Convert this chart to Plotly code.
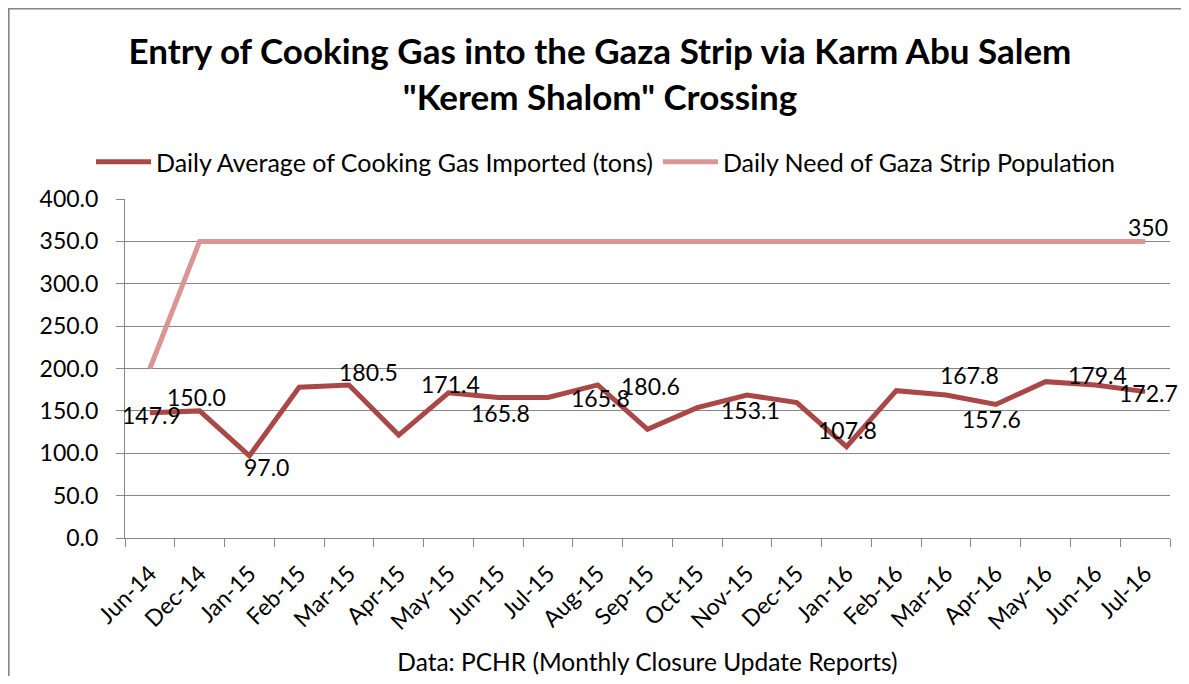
import plotly.graph_objects as go

months = ["Jun-14", "Dec-14", "Jan-15", "Feb-15", "Mar-15", "Apr-15", "May-15",
          "Jun-15", "Jul-15", "Aug-15", "Sep-15", "Oct-15", "Nov-15", "Dec-15",
          "Jan-16", "Feb-16", "Mar-16", "Apr-16", "May-16", "Jun-16", "Jul-16"]

imported = [147.9, 150.0, 97.0, 177.8, 180.5, 121.5, 171.4,
            165.8, 165.8, 180.6, 128.2, 153.8, 168.7, 159.7,
            107.8, 173.8, 168.7, 157.6, 184.5, 180.5, 172.7]

need = [200, 350, 350, 350, 350, 350, 350, 350, 350, 350, 350,
        350, 350, 350, 350, 350, 350, 350, 350, 350, 350]

# data labels as printed on the chart: (month, label text)
imported_labels = [("Jun-14", "147.9"), ("Dec-14", "150.0"), ("Jan-15", "97.0"),
                   ("Mar-15", "180.5"), ("May-15", "171.4"), ("Jun-15", "165.8"),
                   ("Aug-15", "165.8"), ("Sep-15", "180.6"), ("Nov-15", "153.1"),
                   ("Jan-16", "107.8"), ("Mar-16", "167.8"), ("Apr-16", "157.6"),
                   ("Jun-16", "179.4"), ("Jul-16", "172.7")]
need_labels = [("Jul-16", "350")]

# pixel offsets of each label relative to its point (dx right, dy up)
imported_offsets = [(2, -2), (-3, 14), (17, -11), (20, 13), (2, 9), (2, -16),
                    (3, -13), (3, 43), (3, -15), (1, 17), (23, 20), (-4, -15),
                    (2, 10), (3, -1)]
need_offsets = [(3, 14)]

FONT = "Lato"
DARK = "#A94846"
LIGHT = "#D99694"
GRID = "#868686"

# the page adds an 8px body margin, so the figure is made smaller to fit
W, H = 1181, 668
L, R, T, B = 117, 19, 191, 138
PW, PH = W - L - R, H - T - B

fig = go.Figure()
fig.add_trace(go.Scatter(x=months, y=imported, mode="lines",
                         name="Daily Average of Cooking Gas Imported (tons)",
                         line=dict(color=DARK, width=5)))
fig.add_trace(go.Scatter(x=months, y=need, mode="lines",
                         name="Daily Need of Gaza Strip Population",
                         line=dict(color=LIGHT, width=5)))

val_imp = dict(zip(months, imported))
val_need = dict(zip(months, need))
annotations = []
for (m, t), (dx, dy) in zip(imported_labels, imported_offsets):
    annotations.append(dict(x=m, y=val_imp[m], xref="x", yref="y", text=t,
                            showarrow=False, xshift=dx, yshift=dy,
                            font=dict(family=FONT, size=23, color="black")))
for (m, t), (dx, dy) in zip(need_labels, need_offsets):
    annotations.append(dict(x=m, y=val_need[m], xref="x", yref="y", text=t,
                            showarrow=False, xshift=dx, yshift=dy,
                            font=dict(family=FONT, size=23, color="black")))

fig.update_layout(
    width=W, height=H,
    margin=dict(l=L, r=R, t=T, b=B, autoexpand=False),
    paper_bgcolor="white", plot_bgcolor="white",
    font=dict(family=FONT, size=23, color="black"),
    title=dict(text="<b>Entry of Cooking Gas into the Gaza Strip via Karm Abu Salem<br>\"Kerem Shalom\" Crossing</b>",
               x=592 / W, xanchor="center", xref="container",
               y=1 - 56 / H, yanchor="top", yref="container",
               font=dict(family=FONT, size=35, color="black")),
    legend=dict(orientation="h", x=(598 - L) / PW, xanchor="center",
                y=(T + PH - 154) / PH, yanchor="middle",
                font=dict(family=FONT, size=25, color="black"),
                itemwidth=55, bgcolor="rgba(0,0,0,0)"),
    showlegend=True,
    annotations=annotations,
    shapes=[dict(type="rect", xref="paper", yref="paper",
                 x0=(0.8 - L) / PW, x1=1.1, y0=-0.6, y1=(T + PH - 0.8) / PH,
                 line=dict(color=GRID, width=1.6), fillcolor="rgba(0,0,0,0)",
                 layer="below")],
)

fig.update_xaxes(type="category", range=[-0.5, len(months) - 0.5],
                 showgrid=False, showline=True, linecolor=GRID,
                 linewidth=1, ticks="outside", tickson="boundaries", ticklen=8,
                 tickcolor=GRID, tickangle=-45, ticklabelstandoff=12,
                 tickfont=dict(family=FONT, size=23, color="black"),
                 title=dict(text="Data: PCHR (Monthly Closure Update Reports)",
                            font=dict(family=FONT, size=24.5, color="black"),
                            standoff=21))
fig.update_yaxes(range=[0, 400], dtick=50, tickformat=".1f", showgrid=True,
                 gridcolor=GRID, gridwidth=1, showline=True, linecolor=GRID,
                 linewidth=1, ticks="outside", ticklen=8, tickcolor=GRID,
                 zeroline=False, ticklabelstandoff=13,
                 tickfont=dict(family=FONT, size=23, color="black"))

fig.write_html("out.html")
